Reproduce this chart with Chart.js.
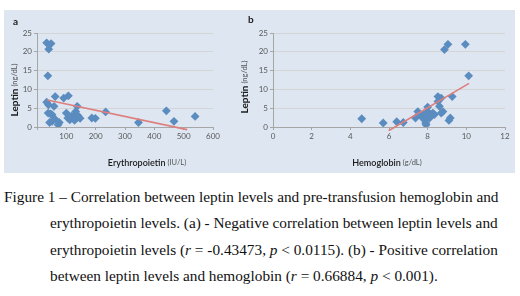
<!DOCTYPE html>
<html>
<head>
<meta charset="utf-8">
<script src="https://cdn.jsdelivr.net/npm/chart.js@4.4.0/dist/chart.umd.min.js"></script>
<style>
  body { margin: 0; background: #fff; width: 520px; height: 296px; overflow: hidden; position: relative; }
  #panels { position: absolute; left: 4px; top: 10px; width: 511px; height: 163px; background: #dde6f1; }
  #chartA { position: absolute; left: 0; top: 0; }
  #chartB { position: absolute; left: 233px; top: 0; }
  #caption { position: absolute; left: 4px; top: 184px; width: 481px; font-family: "Liberation Serif", "Times New Roman", serif; font-size: 15.3px; line-height: 26.4px; color: #111; }
  #caption div { white-space: nowrap; }
  #caption span { display: inline-block; }
  #caption .ind { margin-left: 46px; }
</style>
</head>
<body>
<div id="panels">
  <canvas id="chartA" width="233" height="163"></canvas>
  <canvas id="chartB" width="278" height="163"></canvas>
</div>
<div id="caption">
  <div data-w="481"><span>Figure 1 – Correlation between leptin levels and pre-transfusion hemoglobin and</span></div>
  <div class="ind" data-w="435"><span>erythropoietin levels. (a) - Negative correlation between leptin levels and</span></div>
  <div class="ind" data-w="435"><span>erythropoietin levels (<i>r</i> = -0.43473, <i>p</i> &lt; 0.0115). (b) - Positive correlation</span></div>
  <div class="ind"><span>between leptin levels and hemoglobin (<i>r</i> = 0.66884, <i>p</i> &lt; 0.001).</span></div>
</div>
<script>
// Panel a: erythropoietin (IU/L) vs leptin (ng/dL)
const epoX = [33, 48, 40, 37, 33, 39, 38, 46, 51, 52, 43, 58, 62, 72, 76, 91, 107, 100, 105, 112, 124, 128, 136, 132, 137, 147, 187, 199, 234, 346, 441, 467, 539, 118, 140, 60];
const epoY = [22.4, 22.2, 20.7, 13.6, 6.6, 5.9, 3.7, 3.5, 3.3, 1.5, 1.2, 5.5, 8.1, 0.6, 1.2, 7.7, 8.3, 3.7, 2.4, 1.9, 2.8, 1.8, 2.4, 4.1, 5.5, 2.3, 2.4, 2.3, 4.0, 1.2, 4.3, 1.5, 2.8, 2.9, 3.0, 2.2];
const epoTrendX = [35, 512];
const epoTrendY = [7.2, -0.7];

// Panel b: hemoglobin (g/dL) vs leptin (ng/dL)
const hbX = [4.59, 5.7, 6.4, 6.74, 7.37, 7.49, 7.66, 7.75, 7.83, 7.9, 7.92, 7.95, 8.0, 8.0, 8.1, 8.18, 8.27, 8.35, 8.53, 8.53, 8.61, 8.7, 8.79, 8.7, 8.87, 9.05, 9.1, 9.17, 9.27, 9.95, 10.12];
const hbY = [2.2, 1.06, 1.4, 1.2, 2.4, 4.1, 2.8, 3.3, 1.9, 1.06, 0.6, 2.8, 4.1, 5.3, 2.4, 3.3, 3.7, 3.3, 6.8, 8.1, 5.5, 3.7, 4.1, 7.7, 20.6, 22.0, 1.76, 2.4, 8.1, 22.0, 13.6];
const hbTrendX = [5.98, 10.14];
const hbTrendY = [-1.0, 11.6];

const leptinTicks = [0, 5, 10, 15, 20, 25];

const pointColor = '#5b8cbf';
const trendColor = '#de7f7d';
const tickColor = '#595959';
const gridColor = '#d4d4d4';
const fontFamily = 'Lato, "Open Sans", sans-serif';

// Stretch caption lines to their justified width by spreading the spaces
document.querySelectorAll('#caption div[data-w]').forEach(div => {
    const span = div.querySelector('span');
    const target = +div.dataset.w;
    const gaps = (span.textContent.match(/ /g) || []).length;
    const extra = (target - span.getBoundingClientRect().width) / gaps;
    if (extra > 0) span.style.wordSpacing = extra + 'px';
});

function toPoints(xs, ys) {
    return xs.map((x, i) => ({ x: x, y: ys[i] }));
}

// Draws panel letter and the mixed bold/regular axis titles
function titlesPlugin(letter, letterPos, yTitlePos, xTitle, xUnit, xTitlePos) {
    return {
        id: 'titles',
        afterDraw(chart) {
            const ctx = chart.ctx;
            ctx.save();
            ctx.fillStyle = '#1a1a1a';
            ctx.font = 'bold 10px ' + fontFamily;
            ctx.textBaseline = 'middle';
            ctx.textAlign = 'left';
            ctx.fillText(letter, letterPos[0], letterPos[1]);

            // y title, rotated
            const boldFont = 'bold 10px ' + fontFamily;
            const unitFont = '7.5px ' + fontFamily;
            ctx.font = boldFont;
            const w1 = ctx.measureText('Leptin').width;
            ctx.font = unitFont;
            const w2 = ctx.measureText(' (ng/dL)').width;
            ctx.translate(yTitlePos[0], yTitlePos[1]);
            ctx.rotate(-Math.PI / 2);
            let start = -(w1 + w2) / 2;
            ctx.font = boldFont;
            ctx.fillStyle = '#1a1a1a';
            ctx.fillText('Leptin', start, 0);
            ctx.font = unitFont;
            ctx.fillStyle = '#555';
            ctx.fillText(' (ng/dL)', start + w1, 0);
            ctx.setTransform(1, 0, 0, 1, 0, 0);

            // x title
            ctx.font = '600 9px ' + fontFamily;
            const w3 = ctx.measureText(xTitle).width;
            ctx.font = '7.5px ' + fontFamily;
            const w4 = ctx.measureText(' ' + xUnit).width;
            start = xTitlePos[0] - (w3 + w4) / 2;
            ctx.font = '600 9px ' + fontFamily;
            ctx.fillStyle = '#1a1a1a';
            ctx.fillText(xTitle, start, xTitlePos[1]);
            ctx.font = '7.5px ' + fontFamily;
            ctx.fillStyle = '#555';
            ctx.fillText(' ' + xUnit, start + w3, xTitlePos[1]);
            ctx.restore();
        }
    };
}

function makeChart(canvasId, points, trend, xOpts, yWidth, padding, plugin) {
    const ctx = document.getElementById(canvasId).getContext('2d');
    return new Chart(ctx, {
        type: 'scatter',
        data: {
            datasets: [{
                data: points,
                pointStyle: 'rectRot',
                pointRadius: 4.4,
                pointHoverRadius: 4.4,
                backgroundColor: pointColor,
                borderColor: pointColor,
                borderWidth: 0,
                order: 1
            }, {
                data: trend,
                showLine: true,
                pointRadius: 0,
                borderColor: trendColor,
                borderWidth: 1.6,
                clip: 4,
                order: 0
            }]
        },
        options: {
            responsive: false,
            animation: false,
            layout: { padding: padding },
            plugins: { legend: { display: false }, tooltip: { enabled: false } },
            scales: {
                x: Object.assign({
                    type: 'linear',
                    afterFit: scale => { scale.height = 14; },
                    grid: { drawOnChartArea: false, color: '#a6a6a6', tickLength: 3, tickColor: '#a6a6a6' },
                    border: { color: '#a6a6a6' }
                }, xOpts),
                y: {
                    type: 'linear',
                    min: 0,
                    max: 25,
                    afterFit: scale => { scale.width = yWidth; },
                    afterBuildTicks: scale => { scale.ticks = leptinTicks.map(v => ({ value: v })); },
                    grid: { color: gridColor, tickLength: 3, tickColor: '#a6a6a6' },
                    border: { color: '#a6a6a6' },
                    ticks: { color: tickColor, font: { size: 8, family: fontFamily }, padding: 2 }
                }
            }
        },
        plugins: [plugin]
    });
}

makeChart('chartA', toPoints(epoX, epoY), toPoints(epoTrendX, epoTrendY),
    { min: 0, max: 600, ticks: { stepSize: 100, color: tickColor, font: { size: 8, family: fontFamily }, padding: 2, maxRotation: 0, callback: v => (v === 0 ? '' : v) } },
    25, { left: 8, right: 24, top: 23, bottom: 32 },
    titlesPlugin('a', [9, 12], [11, 80], 'Erythropoietin', '(IU/L)', [143, 153]));

makeChart('chartB', toPoints(hbX, hbY), toPoints(hbTrendX, hbTrendY),
    { min: 0, max: 12, ticks: { stepSize: 2, color: tickColor, font: { size: 8, family: fontFamily }, padding: 2, maxRotation: 0 } },
    22, { left: 14, right: 10, top: 23, bottom: 32 },
    titlesPlugin('b', [11, 10], [8, 77], 'Hemoglobin', '(g/dL)', [150, 153]));
</script>
</body>
</html>
